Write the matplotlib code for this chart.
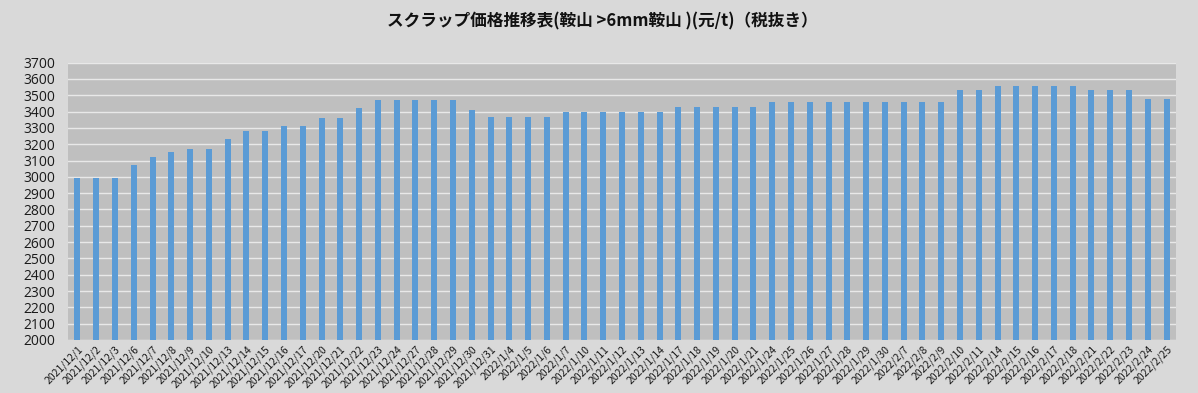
import matplotlib.pyplot as plt

plt.rcParams['font.family'] = ['Noto Sans CJK JP', 'DejaVu Sans']

dates = ['2021/12/1', '2021/12/2', '2021/12/3', '2021/12/6', '2021/12/7', '2021/12/8',
         '2021/12/9', '2021/12/10', '2021/12/13', '2021/12/14', '2021/12/15', '2021/12/16',
         '2021/12/17', '2021/12/20', '2021/12/21', '2021/12/22', '2021/12/23', '2021/12/24',
         '2021/12/27', '2021/12/28', '2021/12/29', '2021/12/30', '2021/12/31',
         '2022/1/4', '2022/1/5', '2022/1/6', '2022/1/7', '2022/1/10', '2022/1/11',
         '2022/1/12', '2022/1/13', '2022/1/14', '2022/1/17', '2022/1/18', '2022/1/19',
         '2022/1/20', '2022/1/21', '2022/1/24', '2022/1/25', '2022/1/26', '2022/1/27',
         '2022/1/28', '2022/1/29', '2022/1/30', '2022/2/7', '2022/2/8', '2022/2/9',
         '2022/2/10', '2022/2/11', '2022/2/14', '2022/2/15', '2022/2/16', '2022/2/17',
         '2022/2/18', '2022/2/21', '2022/2/22', '2022/2/23', '2022/2/24', '2022/2/25']

prices = [2990, 2990, 2990, 3070, 3120, 3150,
          3170, 3170, 3230, 3280, 3280, 3310,
          3310, 3360, 3360, 3420, 3470, 3470,
          3470, 3470, 3470, 3410, 3370,
          3370, 3370, 3370, 3400, 3400, 3400,
          3400, 3400, 3400, 3430, 3430, 3430,
          3430, 3430, 3460, 3460, 3460, 3460,
          3460, 3460, 3460, 3460, 3460, 3460,
          3530, 3530, 3560, 3560, 3560, 3560,
          3560, 3530, 3530, 3530, 3480, 3480]

y_ticks = list(range(2000, 3701, 100))
title = 'スクラップ価格推移表(鞍山 >6mm鞍山 )(元/t)（税抜き）'

fig = plt.figure(figsize=(11.98, 3.93), dpi=100, facecolor='#d9d9d9')
ax = fig.add_axes([0.0568, 0.135, 0.9248, 0.7055])
ax.set_facecolor('#bfbfbf')

x = range(len(dates))
ax.bar(x, prices, width=0.32, color='#5b9bd5', zorder=3)

ax.set_ylim(2000, 3700)
ax.set_yticks(y_ticks)
ax.set_yticklabels([str(v) for v in y_ticks], fontsize=10, color='#1a1a1a',
                   family='Open Sans')
ax.set_xlim(-0.5, len(dates) - 0.5)
ax.set_xticks(list(x))
ax.set_xticklabels(dates, rotation=45, ha='right', rotation_mode='anchor',
                   fontsize=7.5, color='#1a1a1a')
ax.tick_params(axis='x', length=0, pad=3)
ax.tick_params(axis='y', length=0, pad=9)
ax.grid(axis='y', color='#e8e8e8', linewidth=1, zorder=1)
for s in ax.spines.values():
    s.set_visible(False)

fig.text(0.503, 0.945, title, ha='center', va='center', fontsize=12, fontweight='bold',
         color='#111111')

fig.savefig('out.png', dpi=100, facecolor=fig.get_facecolor())
